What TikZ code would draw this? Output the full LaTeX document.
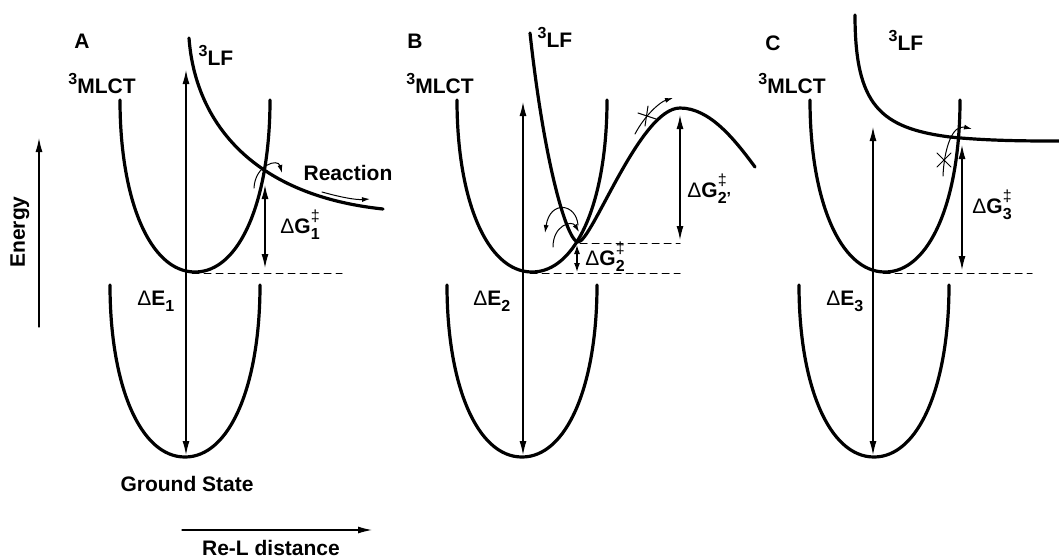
\documentclass[tikz,border=0pt]{standalone}
\usepackage{fontspec}
\setmainfont{Liberation Sans}
\usetikzlibrary{arrows.meta}

\newcommand{\dGact}[1]{{\mdseries Δ}G\rlap{\raisebox{1.0ex}{\footnotesize\mdseries ‡}}\raisebox{-0.55ex}{\footnotesize #1}}
\newcommand{\dEgap}[1]{{\mdseries Δ}E\raisebox{-0.55ex}{\footnotesize #1}}
\newcommand{\triplet}[1]{\raisebox{0.75ex}{\footnotesize 3}#1}

\begin{document}
\begin{tikzpicture}[x=0.5pt,y=-0.5pt,font=\bfseries\fontsize{10.5}{12}\selectfont,
    line cap=round,line join=round,every node/.style={inner sep=0pt},
    curve/.style={line width=1.6pt},
    axis/.style={line width=0.6pt,-{Latex[length=7pt,width=3.5pt]}},
    gap/.style={line width=0.6pt,{Latex[length=7pt,width=3.5pt]}-{Latex[length=7pt,width=3.5pt]}},
    gapsmall/.style={line width=0.6pt,{Latex[length=4.5pt,width=3pt]}-{Latex[length=4.5pt,width=3pt]}},
    hop/.style={line width=0.5pt,-{Latex[length=4pt,width=2.5pt]}},
    level/.style={line width=0.5pt,dash pattern=on 3.5pt off 2.5pt}]
  \useasboundingbox (0,0) rectangle (1059,558);

  % Axes.
  \coordinate (eLow) at (39,327);
  \coordinate (eHigh) at (39,138);
  \draw[axis] (eLow) -- (eHigh);
  \node[rotate=90,anchor=base] (energy) at (25,232) {Energy};
  \coordinate (dLeft) at (182,530);
  \coordinate (dRight) at (372,530);
  \draw[axis] (dLeft) -- (dRight);
  \node[anchor=base] (dist) at (271,555) {Re-L distance};

  % 3MLCT and ground state wells.
  \foreach \m/\g in {195/185,532/522,885/874}{
    \draw[curve] (\m-75,100) .. controls +(0,100) and +(-45,0) .. (\m,272)
      .. controls +(45,0) and +(0,100) .. (\m+75,100);
    \draw[curve] (\g-75,285) .. controls +(0,100) and +(-45,0) .. (\g,457)
      .. controls +(45,0) and +(0,100) .. (\g+75,285);
  }

  % Panel A.
  \node[anchor=base] (labA) at (82,48) {A};
  \node[anchor=base] (mlctA) at (102,93) {\triplet{MLCT}};
  \node[anchor=base] (lfA) at (216,65) {\triplet{LF}};
  \draw[curve] (189,38) .. controls (195,120) and (250,195) .. (383,209);
  \coordinate (topA) at (186,70);
  \coordinate (gsA) at (186,455);
  \draw[gap] (topA) -- (gsA);
  \coordinate (xA) at (265,185);
  \coordinate (baseA) at (265,268);
  \draw[gap] (xA) -- (baseA);
  \coordinate (lvA1) at (192,273);
  \coordinate (lvA2) at (342,273);
  \draw[level] (lvA1) -- (lvA2);
  \draw[hop] (254,188) .. controls (255,165) and (278,158) .. (282,173);
  \draw[hop] (322,192) .. controls (340,197) and (355,200) .. (370,199);
  \node[anchor=base] (reacA) at (348,180) {Reaction};
  \node[anchor=base west] (gA) at (280,233) {\dGact{1}};
  \node[anchor=base west] (eA) at (137,305) {\dEgap{1}};
  \node[anchor=base] (gsLab) at (187,491) {Ground State};

  % Panel B.
  \node[anchor=base] (labB) at (415,48) {B};
  \node[anchor=base] (mlctB) at (440,93) {\triplet{MLCT}};
  \node[anchor=base] (lfB) at (555,47) {\triplet{LF}};
  \draw[curve] (530,33) .. controls (545,170) and (568,242) .. (578,242)
    .. controls (592,242) and (640,108) .. (680,108)
    .. controls (710,108) and (735,140) .. (755,167);
  \coordinate (topB) at (523,102);
  \coordinate (gsB) at (523,455);
  \draw[gap] (topB) -- (gsB);
  \coordinate (peakB) at (680,115);
  \coordinate (trapB) at (680,240);
  \draw[gap] (peakB) -- (trapB);
  \coordinate (crossB) at (577,245);
  \coordinate (baseB) at (577,272);
  \draw[gapsmall] (crossB) -- (baseB);
  \coordinate (lvB1) at (580,243);
  \coordinate (lvB2) at (680,243);
  \draw[level] (lvB1) -- (lvB2);
  \coordinate (lvB3) at (530,273);
  \coordinate (lvB4) at (680,273);
  \draw[level] (lvB3) -- (lvB4);
  \draw[hop] (578,225) .. controls (576,203) and (550,200) .. (545,233);
  \draw[hop] (553,247) .. controls (553,225) and (572,220) .. (579,232);
  \draw[hop] (635,134) .. controls (645,115) and (660,102) .. (673,98);
  \draw[line width=0.5pt] (638,113) -- (656,119) (648,106) -- (645,126);
  \node[anchor=base west] (gB2) at (585,265) {\dGact{2}};
  \node[anchor=base west] (gB2p) at (687,197) {\dGact{2'}};
  \node[anchor=base west] (eB) at (473,305) {\dEgap{2}};

  % Panel C.
  \node[anchor=base] (labC) at (773,50) {C};
  \node[anchor=base] (mlctC) at (792,93) {\triplet{MLCT}};
  \node[anchor=base] (lfC) at (906,50) {\triplet{LF}};
  \draw[curve] (855,15) .. controls (855,105) and (880,128) .. (950,137)
    .. controls (990,141) and (1030,141) .. (1059,141);
  \coordinate (topC) at (873,127);
  \coordinate (gsC) at (873,455);
  \draw[gap] (topC) -- (gsC);
  \coordinate (xC) at (962,145);
  \coordinate (baseC) at (962,270);
  \draw[gap] (xC) -- (baseC);
  \coordinate (lvC1) at (883,273);
  \coordinate (lvC2) at (1032,273);
  \draw[level] (lvC1) -- (lvC2);
  \draw[hop] (943,176) .. controls (944,150) and (952,124) .. (972,129);
  \draw[line width=0.5pt] (937,153) -- (951,167) (937,167) -- (951,153);
  \node[anchor=base west] (gC) at (972,213) {\dGact{3}};
  \node[anchor=base west] (eC) at (826,305) {\dEgap{3}};
\end{tikzpicture}
\end{document}
